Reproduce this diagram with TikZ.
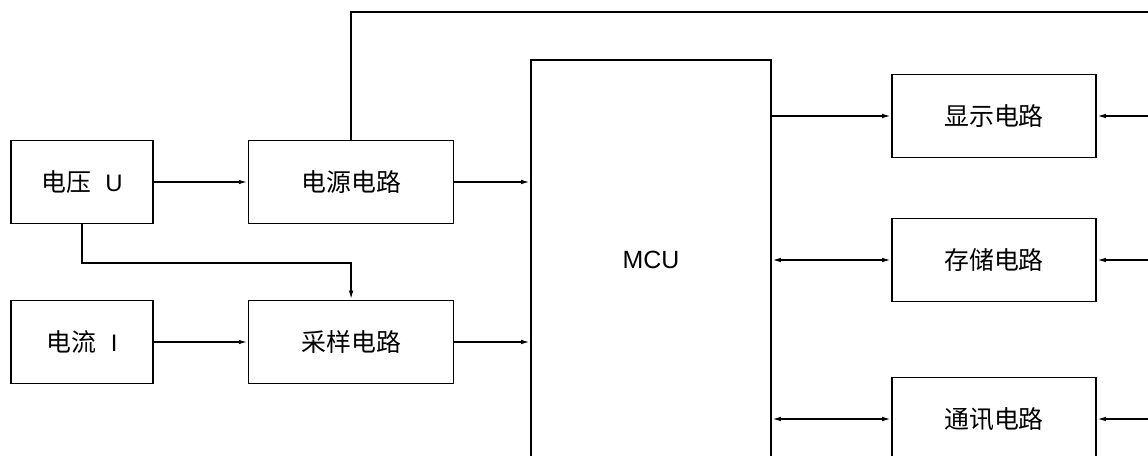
\documentclass[tikz,border=0pt]{standalone}
\usepackage{fontspec}
\setmainfont{Liberation Sans}
\newfontfamily\cjk{Noto Sans CJK SC}
\usetikzlibrary{arrows.meta, positioning}

\begin{document}
\begin{tikzpicture}[
    x=1bp, y=-1bp,
    font=\fontsize{24}{28}\selectfont,
    node distance=94bp and 77bp,
    >={Latex[length=9bp,width=4.5bp]},
    blk/.style={draw, line width=1.6bp, inner sep=0pt, align=center, minimum height=83bp},
    src_node/.style={blk, minimum width=142bp},
    ckt_node/.style={blk, minimum width=205bp},
    mcu_node/.style={blk, minimum width=240bp, minimum height=400bp, font=\fontsize{25}{29}\selectfont},
    out_node/.style={blk, minimum width=204bp},
    arrow/.style={->, line width=1.6bp},
    biarrow/.style={<->, line width=1.6bp}
]
\clip (0,0) rectangle (1148,456);

% Inputs
\node[src_node] (volt) at (82,182) {{\cjk\fontsize{25}{29}\selectfont 电压}\hspace{0.6em}U};
\node[src_node] (curr) at (82,342) {{\cjk\fontsize{25}{29}\selectfont 电流}\hspace{0.6em}I};

% Front-end circuits
\node[ckt_node, right=94bp of volt] (pwr) {\cjk\fontsize{25}{29}\selectfont 电源电路};
\node[ckt_node, right=94bp of curr] (samp) {\cjk\fontsize{25}{29}\selectfont 采样电路};

% MCU
\node[mcu_node] (mcu) at (651,260) {MCU};

% Peripheral circuits
\node[out_node] (disp) at (994,116) {\cjk\fontsize{25}{29}\selectfont 显示电路};
\node[out_node] (stor) at (994,260) {\cjk\fontsize{25}{29}\selectfont 存储电路};
\node[out_node] (comm) at (994,419) {\cjk\fontsize{25}{29}\selectfont 通讯电路};

% Right-hand supply bus (off the picture edge)
\coordinate (busR) at (1170,0);
\coordinate (topR) at (1170,12);

% Inputs -> front-end
\draw[arrow] (volt) -- (pwr);
\draw[arrow] (curr) -- (samp);
\draw[arrow] (volt.south) -- ++(0,39) -| (samp.north);

% Front-end -> MCU
\draw[arrow] (pwr) -- (pwr -| mcu.west);
\draw[arrow] (samp) -- (samp -| mcu.west);

% MCU -> peripherals
\draw[arrow] (disp -| mcu.east) -- (disp);
\draw[biarrow] (stor -| mcu.east) -- (stor);
\draw[biarrow] (comm -| mcu.east) -- (comm);

% Power line
\draw[line width=1.6bp] (pwr.north) |- (topR);
\draw[arrow] (disp -| busR) -- (disp.east);
\draw[arrow] (stor -| busR) -- (stor.east);
\draw[arrow] (comm -| busR) -- (comm.east);

\end{tikzpicture}
\end{document}
